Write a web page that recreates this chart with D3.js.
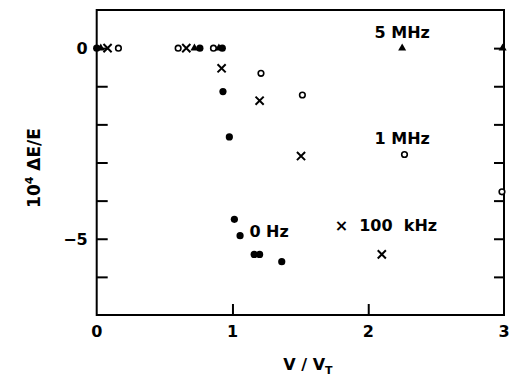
<!DOCTYPE html>
<html><head><meta charset="utf-8">
<script src="https://cdn.jsdelivr.net/npm/d3@7"></script>
<style>body{margin:0;background:#fff}svg{display:block}text{font-family:"DejaVu Sans",Arial,sans-serif;font-weight:bold;fill:#000}</style>
</head><body><svg id="c" width="511" height="377"></svg>
<script>
const xTicks = [0, 1, 2, 3];
const yTicks = [0, -1, -2, -3, -4, -5, -6];
const yTickLabels = {"0": "0", "-5": "−5"};
// series: [V/VT, 10^4 ΔE/E]
const hz0 = [[0.0,0],[0.76,0],[0.925,0],[0.93,-1.14],[0.977,-2.33],[1.014,-4.49],[1.056,-4.92],[1.16,-5.41],[1.2,-5.41],[1.363,-5.6]];
const khz100 = [[0.08,0],[0.66,0],[0.92,-0.53],[1.20,-1.38],[1.505,-2.83],[2.10,-5.41]];
const mhz1 = [[0.16,0],[0.6,0],[0.86,0],[1.21,-0.66],[1.515,-1.23],[2.267,-2.79],[2.985,-3.77]];
const mhz5 = [[0.03,0],[0.72,0],[0.90,0],[2.25,0],[2.99,0]];
const labels = [
  {t:"5 MHz", x:2.25, y:0.27},
  {t:"1 MHz", x:2.25, y:-2.52},
  {t:"×  100  kHz", x:2.13, y:-4.8},
  {t:"0 Hz", x:1.27, y:-4.95}
];

const svg = d3.select("#c");
const x = d3.scaleLinear().domain([0,3]).range([96.7,504]);
const y = d3.scaleLinear().domain([-7,1]).range([315,10]);

// frame
svg.append("rect").attr("x",x(0)).attr("y",y(1)).attr("width",x(3)-x(0)).attr("height",y(-7)-y(1))
  .attr("fill","none").attr("stroke","#000").attr("stroke-width",2);

// left axis
const gl = svg.append("g").attr("transform",`translate(${x(0)},0)`)
  .call(d3.axisRight(y).tickValues(yTicks).tickSize(11).tickFormat(""));
gl.select(".domain").remove();
gl.selectAll("line").attr("stroke-width",2);
// right axis
const gr = svg.append("g").attr("transform",`translate(${x(3)},0)`)
  .call(d3.axisLeft(y).tickValues(yTicks).tickSize(10).tickFormat(""));
gr.select(".domain").remove();
gr.selectAll("line").attr("stroke-width",2);
// bottom axis
const gb = svg.append("g").attr("transform",`translate(0,${y(-7)})`)
  .call(d3.axisTop(x).tickValues([1,2]).tickSize(11).tickFormat(""));
gb.select(".domain").remove();
gb.selectAll("line").attr("stroke-width",2);

// tick labels
svg.selectAll(".xl").data(xTicks).enter().append("text")
  .attr("x",d=>x(d)).attr("y",y(-7)+22).attr("text-anchor","middle")
  .attr("font-size",16).text(d=>d);
svg.selectAll(".yl").data(Object.keys(yTickLabels)).enter().append("text")
  .attr("x",x(0)-9).attr("y",d=>y(+d)+6).attr("text-anchor","end")
  .attr("font-size",16).text(d=>yTickLabels[d]);

// axis titles
svg.append("text").attr("x",308).attr("y",370).attr("text-anchor","middle").attr("font-size",16)
  .html('V / V<tspan font-size="11" dy="4">T</tspan>');
svg.append("text").attr("transform","translate(40,168) rotate(-90)").attr("text-anchor","middle").attr("font-size",17)
  .html('10<tspan font-size="11" dy="-7">4</tspan><tspan dy="7">  ΔE/E</tspan>');

// markers
svg.selectAll(".f").data(hz0).enter().append("circle")
  .attr("cx",d=>x(d[0])).attr("cy",d=>y(d[1])).attr("r",3.6).attr("fill","#000");
svg.selectAll(".o").data(mhz1).enter().append("circle")
  .attr("cx",d=>x(d[0])).attr("cy",d=>y(d[1])).attr("r",2.8).attr("fill","#fff").attr("stroke","#000").attr("stroke-width",1.6);
const sym = d3.symbol().type(d3.symbolTimes).size(45);
svg.selectAll(".x").data(khz100).enter().append("path")
  .attr("transform",d=>`translate(${x(d[0])},${y(d[1])})`).attr("d",sym)
  .attr("fill","none").attr("stroke","#000").attr("stroke-width",2);
const tri = d3.symbol().type(d3.symbolTriangle).size(28);
svg.selectAll(".t").data(mhz5).enter().append("path")
  .attr("transform",d=>`translate(${x(d[0])},${y(d[1])})`).attr("d",tri).attr("fill","#000");

// labels
svg.selectAll(".lab").data(labels).enter().append("text")
  .attr("x",d=>x(d.x)).attr("y",d=>y(d.y)).attr("font-size",16)
  .attr("text-anchor","middle").attr("xml:space","preserve").text(d=>d.t);
</script></body></html>
